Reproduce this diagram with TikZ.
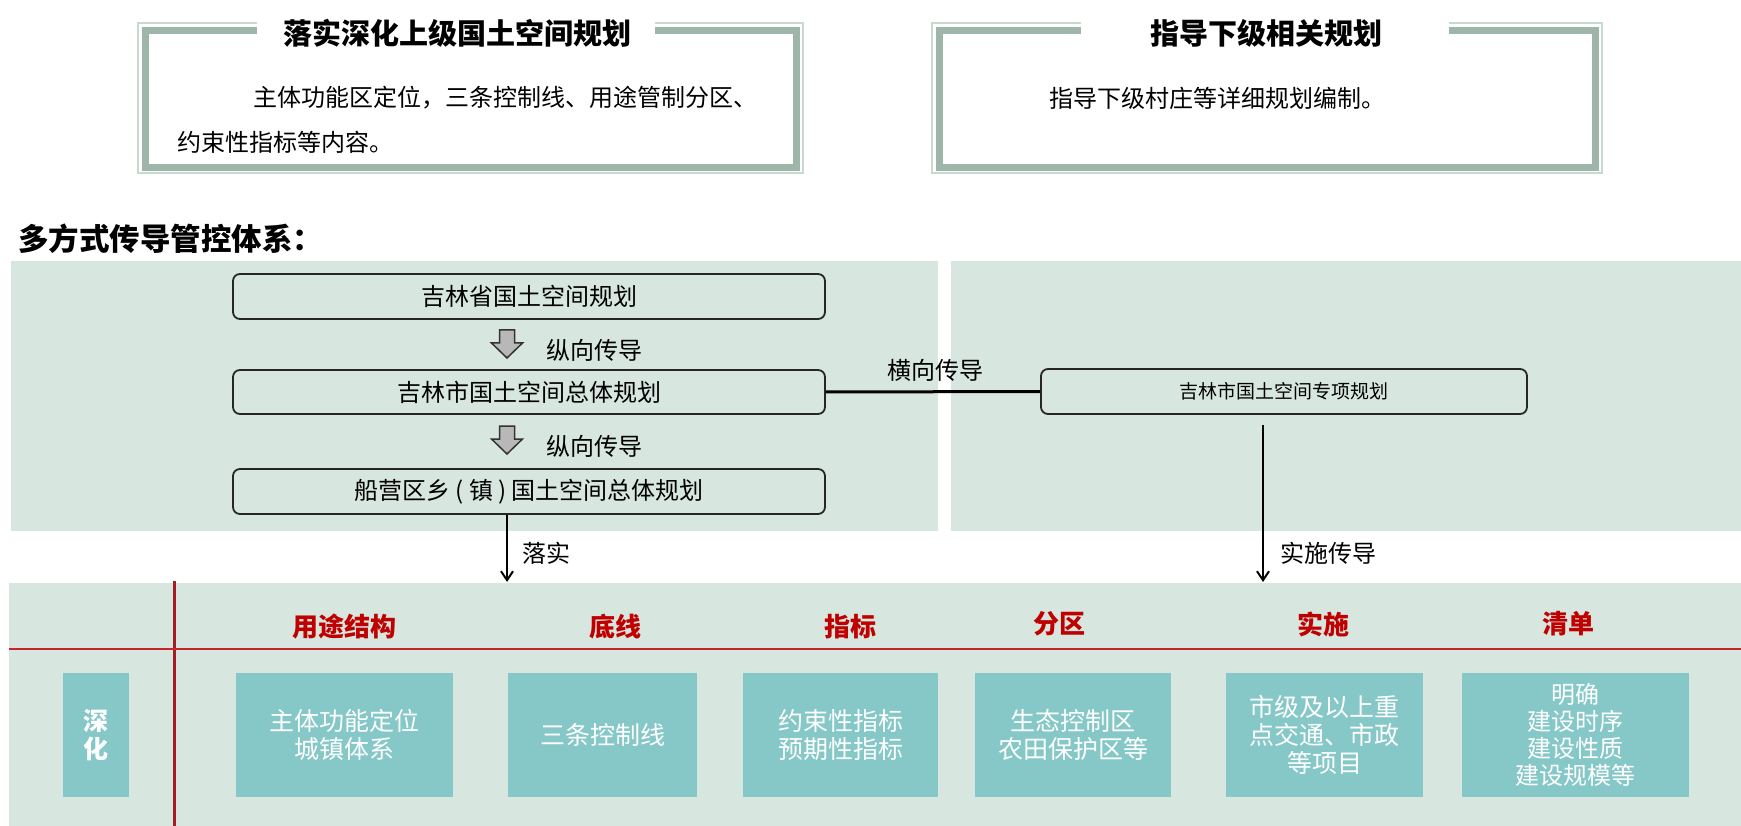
\documentclass[tikz,border=0pt]{standalone}
\usepackage{fontspec}
\setmainfont{Noto Sans CJK SC}
\usetikzlibrary{arrows.meta}
\definecolor{panel}{HTML}{D7E7E0}
\definecolor{tealbox}{HTML}{86C8C8}
\definecolor{band}{HTML}{9DB6A9}
\definecolor{bandlight}{HTML}{C6DACF}
\definecolor{hdrred}{HTML}{C00000}
\definecolor{redline}{HTML}{C8262E}
\definecolor{darkred}{HTML}{A51C24}
\tikzset{
  plan/.style={draw=black!85, line width=1.8pt, rounded corners=7pt, inner sep=0pt,
    font=\fontsize{24}{28}\selectfont},
  lbl/.style={inner sep=0pt, font=\fontsize{24}{28}\selectfont},
  ttl/.style={inner sep=0pt, font=\bfseries\fontsize{29}{32}\selectfont},
  hdr/.style={inner sep=0pt, text=hdrred, font=\bfseries\fontsize{26}{30}\selectfont},
  tbox/.style={fill=tealbox, text=white, inner sep=0pt, align=center,
    font=\fontsize{25}{28}\selectfont},
  conn/.style={draw=black, line width=2pt, -{Straight Barb[length=9pt,width=12pt]}},
  downarrow/.pic={\draw[fill=black!28, draw=black!80, line width=1.5pt, line join=miter]
    (-7.5,-14) -- (7.5,-14) -- (7.5,-1) -- (15.5,-1) -- (0,14) -- (-15.5,-1) -- (-7.5,-1) -- cycle;},
}
\begin{document}
\begin{tikzpicture}[x=1pt,y=-1pt]
\useasboundingbox[fill=white] (0,0) rectangle (1741,826);

% ---------- top-left frame ----------
\draw[bandlight, line width=1.5pt] (257,23) -- (138,23) -- (138,173) -- (803,173) -- (803,23) -- (655,23);
\draw[band, line width=7pt] (257,30.5) -- (145,30.5) -- (145,167.5) -- (796.5,167.5) -- (796.5,30.5) -- (655,30.5);
\node[ttl] (t1) at (457,33) {落实深化上级国土空间规划};
\node[lbl, anchor=west] (t1a) at (253,98) {主体功能区定位，三条控制线、用途管制分区、};
\node[lbl, anchor=west] (t1b) at (177,142) {约束性指标等内容。};

% ---------- top-right frame ----------
\draw[bandlight, line width=1.5pt] (1081,23) -- (932,23) -- (932,173) -- (1602,173) -- (1602,23) -- (1449,23);
\draw[band, line width=7pt] (1081,30.5) -- (939,30.5) -- (939,167.5) -- (1595.5,167.5) -- (1595.5,30.5) -- (1449,30.5);
\node[ttl] (t2) at (1266,33) {指导下级相关规划};
\node[lbl, anchor=west] (t2a) at (1049,98) {指导下级村庄等详细规划编制。};

% ---------- section title ----------
\node[ttl, anchor=west, font=\bfseries\fontsize{30.5}{34}\selectfont] (sec) at (18,239) {多方式传导管控体系：};

% ---------- panels ----------
\fill[panel] (11,261) rectangle (938,531);
\fill[panel] (951,261) rectangle (1741,531);
\fill[panel] (9,583) rectangle (1741,826);

% ---------- vertical chain ----------
\node[plan, minimum width=592pt, minimum height=45pt] (p1) at (529,296.5) {吉林省国土空间规划};
\node[plan, minimum width=592pt, minimum height=44pt] (p2) at (529,392) {吉林市国土空间总体规划};
\node[plan, minimum width=592pt, minimum height=45pt] (p3) at (529,491.5) {船营区乡 ( 镇 ) 国土空间总体规划};
\pic at (507,344) {downarrow};
\pic at (507,440) {downarrow};
\node[lbl, anchor=west] (v1) at (546,350) {纵向传导};
\node[lbl, anchor=west] (v2) at (546,446) {纵向传导};

% ---------- special plan ----------
\node[plan, minimum width=486pt, minimum height=45pt, font=\fontsize{19}{22}\selectfont] (sp) at (1284,391.5) {吉林市国土空间专项规划};
\draw[black, line width=3pt] (p2.east) -- (sp.west);
\node[lbl] (hx) at (935,370) {横向传导};

% ---------- connectors down ----------
\coordinate (la) at (507,582);
\coordinate (ra) at (1263,582);
\draw[conn] (p3.south -| la) -- (la);
\draw[conn, shorten <=10pt] (sp.south -| ra) -- (ra);
\node[lbl, anchor=west] (lo) at (522,553) {落实};
\node[lbl, anchor=west] (ss) at (1280,553) {实施传导};

% ---------- table lines ----------
\draw[darkred, line width=3pt] (174,581) -- (174,826);
\draw[redline, line width=2pt] (9,649) -- (1741,649);

% ---------- headers ----------
\node[hdr] (h1) at (344,627) {用途结构};
\node[hdr] (h2) at (615,627) {底线};
\node[hdr] (h3) at (850,627) {指标};
\node[hdr] (h4) at (1059,624) {分区};
\node[hdr] (h5) at (1323,624) {实施};
\node[hdr] (h6) at (1568,624) {清单};

% ---------- teal boxes ----------
\node[tbox, minimum width=66pt, minimum height=124pt, font=\bfseries\fontsize{25}{28}\selectfont] (s0) at (96,735) {深\\化};
\node[tbox, minimum width=217pt, minimum height=124pt] (s1) at (344.5,735) {主体功能定位\\城镇体系};
\node[tbox, minimum width=189pt, minimum height=124pt] (s2) at (602.5,735) {三条控制线};
\node[tbox, minimum width=195pt, minimum height=124pt] (s3) at (840.5,735) {约束性指标\\预期性指标};
\node[tbox, minimum width=196pt, minimum height=124pt] (s4) at (1073,735) {生态控制区\\农田保护区等};
\node[tbox, minimum width=197pt, minimum height=124pt] (s5) at (1324.5,735) {市级及以上重\\点交通、市政\\等项目};
\node[tbox, minimum width=227pt, minimum height=124pt, font=\fontsize{24}{27}\selectfont] (s6) at (1575.5,735) {明确\\建设时序\\建设性质\\建设规模等};
\end{tikzpicture}
\end{document}
